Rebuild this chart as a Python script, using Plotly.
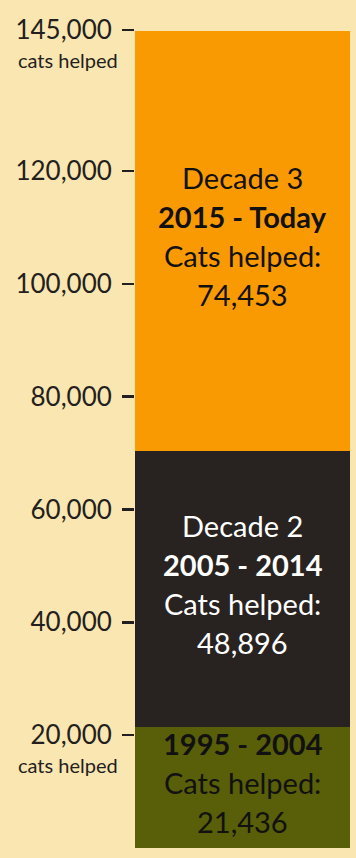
import plotly.graph_objects as go

# ---- data ----
decade_labels = ["", "Decade 2", "Decade 3"]
year_ranges = ["1995 - 2004", "2005 - 2014", "2015 - Today"]
cats_helped = [21436, 48896, 74453]
seg_colors = ["#595E09", "#282320", "#FA9A02"]
text_colors = ["#111111", "#FFFFFF", "#111111"]
tick_vals = [20000, 40000, 60000, 80000, 100000, 120000, 145000]
tick_text = ["20,000", "40,000", "60,000", "80,000", "100,000", "120,000", "145,000"]
unit_label = "cats helped"

BG = "#FAE6B1"
FONT = "Lato"

fig = go.Figure()
for i, v in enumerate(cats_helped):
    fig.add_trace(go.Bar(
        x=["cats"], y=[v], marker=dict(color=seg_colors[i], line=dict(width=0)),
        hoverinfo="skip", showlegend=False,
    ))

annotations = []
base = 0
line_gap = 39
for i, v in enumerate(cats_helped):
    mid = base + v / 2
    lines = []
    if decade_labels[i]:
        lines.append((decade_labels[i], False))
    lines.append((year_ranges[i], True))
    lines.append(("Cats helped:", False))
    lines.append((f"{v:,}", False))
    n = len(lines)
    for j, (t, bold) in enumerate(lines):
        shift = ((n - 1) / 2 - j) * line_gap + 5
        annotations.append(dict(
            x="cats", y=mid, xref="x", yref="y", yshift=shift,
            text=f"<b>{t}</b>" if bold else t, showarrow=False,
            font=dict(family=FONT, size=29, color=text_colors[i]),
            xanchor="center", yanchor="middle",
        ))
    base += v

for tv in (tick_vals[0], tick_vals[-1]):
    annotations.append(dict(
        x=0, xref="paper", y=tv, yref="y", yshift=-30, xshift=-15,
        text=unit_label, showarrow=False, xanchor="right", yanchor="middle",
        font=dict(family=FONT, size=20, color="#231F20"),
    ))

fig.update_layout(
    barmode="stack", bargap=0,
    width=356, height=858,
    margin=dict(l=135, r=6, t=30, b=10),
    paper_bgcolor=BG, plot_bgcolor=BG,
    annotations=annotations,
    xaxis=dict(visible=False, fixedrange=True),
    yaxis=dict(
        range=[0, 145000], tickvals=tick_vals, ticktext=tick_text,
        ticks="outside", ticklen=12, tickwidth=2.5, tickcolor="#231F20",
        showgrid=False, zeroline=False, showline=False,
        tickfont=dict(family=FONT, size=26, color="#231F20"),
        ticklabelstandoff=5, fixedrange=True,
    ),
    font=dict(family=FONT),
)

fig.write_html(
    "out.html",
    config={"displayModeBar": False, "staticPlot": True},
    post_script="document.body.style.margin='0';document.body.style.overflow='hidden';",
)
